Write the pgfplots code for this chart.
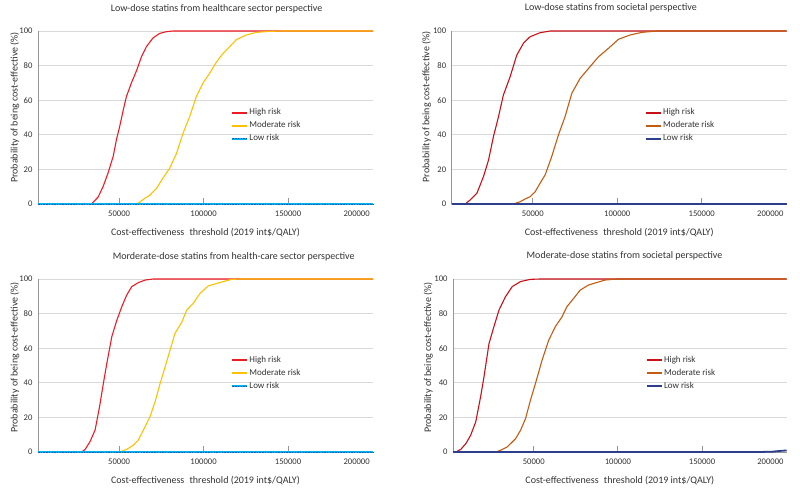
\documentclass[border=0pt]{standalone}
\usepackage{pgfplots}
\pgfplotsset{compat=1.18}
\usepackage{fontspec}
\setmainfont{Carlito}

\definecolor{hcRed}{RGB}{236,28,36}
\definecolor{hcGold}{RGB}{255,192,0}
\definecolor{hcLow}{RGB}{0,176,240}
\definecolor{hcLowDark}{RGB}{0,100,170}
\definecolor{socRed}{RGB}{200,16,22}
\definecolor{socBrown}{RGB}{197,90,17}
\definecolor{socLow}{RGB}{44,62,140}
\definecolor{gridGray}{RGB}{217,217,217}
\definecolor{axisGray}{RGB}{150,150,150}
\definecolor{txtGray}{RGB}{50,50,50}

\pgfplotsset{
  panel/.style={
    scale only axis,
    width=335pt, height=173pt,
    anchor=south west,
    xmin=2000, xmax=200300,
    ymin=0, ymax=100,
    clip=false,
    scaled x ticks=false,
    xtick={50000,100000,150000},
    xticklabels={50000,100000,150000},
    extra x ticks={190600},
    extra x tick labels={200000},
    extra x tick style={major tick length=0pt, grid=none},
    ytick={0,20,...,100},
    ymajorgrids,
    grid style={gridGray, line width=0.8pt},
    axis x line*=bottom, axis y line*=left,
    axis line style={-, axisGray, line width=0.8pt},
    tick align=inside,
    major tick length=6pt,
    xtick style={axisGray, line width=0.9pt},
    ytick style={draw=none},
    /pgf/number format/assume math mode=true,
    tick label style={font=\fontsize{8.6}{10}\selectfont, text=txtGray},
    xticklabel style={yshift=-3.5pt},
    yticklabel style={xshift=-2pt},
    label style={font=\fontsize{10}{12}\selectfont, text=txtGray},
    xlabel={Cost-effectiveness\hspace{0.3em} threshold (2019 int\$/QALY)},
    xlabel style={at={(axis description cs:0.5,0)}, anchor=center, yshift=-29pt},
    ylabel={Probability of being cost-effective (\%)},
    title style={font=\fontsize{10}{12}\selectfont, text=txtGray, anchor=center},
    legend style={draw=none, fill=none, anchor=west, inner sep=0pt,
      font=\fontsize{9}{10}\selectfont, text=txtGray,
      nodes={inner sep=1pt, text height=6.5pt, text depth=2pt},
      row sep=2.5pt},
    legend cell align=left,
    legend image code/.code={
      \draw[##1, line width=2pt] (0pt,0pt) -- (15pt,0pt);
    },
  },
  hiline/.style={line width=1.1pt, line join=round},
  hcLowStyle/.style={hcLow, line width=1.8pt,
    postaction={draw=hcLowDark, line width=0.5pt, dash pattern=on 1.5pt off 1.2pt}},
  socLowStyle/.style={socLow, line width=1.8pt},
}

\pgfplotstableread{
x y
2000 0
200300 0
}\lowzero

\begin{document}
\begin{tikzpicture}
\path[use as bounding box] (0,0) rectangle (800pt,498pt);

% Low-dose, healthcare sector
\begin{axis}[panel, at={(38pt,294pt)},
  title={Low-dose statins from healthcare sector perspective},
  title style={at={(axis description cs:0.533,1)}, yshift=16pt},
  ylabel style={at={(axis description cs:-0.069,0.558)}, anchor=center},
  legend style={at={(axis description cs:0.577,0.4526)}}]
\addplot[hiline, hcRed] coordinates {
(2000,0)(33600,0)(34600,1)(37600,4)(40500,10)(43500,18)(46500,27.5)(48400,37)
(50400,45)(52400,54)(54300,62)(57300,70)(60300,77)(63200,85)(66200,91)(70100,96)
(74000,98.6)(78000,99.6)(82000,100)(200300,100)};
\addplot[hiline, hcGold] coordinates {
(2000,0)(60300,0)(62200,1)(65200,3.3)(68100,5)(72100,9)(76000,15)(79900,20.6)
(83900,29)(87900,41)(91800,50.5)(95700,62)(99700,70)(103600,75.5)(107600,82)
(111500,87)(115500,91)(119400,95)(125300,97.7)(131200,99.2)(139100,99.8)(147000,100)(200300,100)};
\addplot[hcLowStyle] table {\lowzero};
\legend{High risk, Moderate risk, Low risk}
\end{axis}

% Low-dose, societal
\begin{axis}[panel, at={(451.7pt,294pt)},
  title={Low-dose statins from societal perspective},
  title style={at={(axis description cs:0.475,1)}, yshift=17pt},
  ylabel style={at={(axis description cs:-0.075,0.562)}, anchor=center},
  legend style={at={(axis description cs:0.577,0.4526)}}]
\addplot[hiline, socRed] coordinates {
(2000,0)(10000,0)(12900,2.3)(16900,6.2)(20800,15.8)(23800,25.4)(26700,38.9)
(29700,50.5)(32600,63)(36600,73.6)(40500,86)(44500,93)(48400,96.7)(54300,99)
(60300,100)(200300,100)};
\addplot[hiline, socBrown] coordinates {
(2000,0)(38600,0)(42500,1.3)(45500,2.9)(48400,4.2)(51400,7.1)(54300,12)(57300,16.8)
(61200,27.4)(65200,40)(69100,50.5)(73100,64)(78000,72.6)(83900,79.4)(88800,85)
(94800,90)(100700,95.2)(107600,97.7)(114500,99.2)(123400,100)(200300,100)};
\addplot[socLowStyle] table {\lowzero};
\legend{High risk, Moderate risk, Low risk}
\end{axis}

% Moderate-dose, healthcare sector
\begin{axis}[panel, at={(38pt,46pt)},
  title={Morderate-dose statins from health-care sector perspective},
  title style={at={(axis description cs:0.584,1)}, yshift=16.3pt},
  ylabel style={at={(axis description cs:-0.069,0.546)}, anchor=center},
  legend style={at={(axis description cs:0.577,0.455)}}]
\addplot[hiline, hcRed] coordinates {
(2000,0)(27900,0)(29900,1.5)(32800,6)(35800,12.7)(38400,26)(40700,39.7)(42700,51)
(45700,66.7)(48600,76)(51600,84)(54500,90.7)(57500,95.6)(61400,97.9)(65400,99.4)
(70300,100)(200300,100)};
\addplot[hiline, hcGold] coordinates {
(2000,0)(50600,0)(54500,1.5)(58500,4)(61400,7)(64400,12.7)(68300,20.4)(71300,29)
(74300,39.7)(77200,49)(80200,59)(83100,68.6)(87100,75)(90000,82)(94000,86)
(97900,91.7)(102800,96)(109800,98)(116600,99.8)(122600,100)(200300,100)};
\addplot[hcLowStyle] table {\lowzero};
\legend{High risk, Moderate risk, Low risk}
\end{axis}

% Moderate-dose, societal
\begin{axis}[panel, at={(453pt,46pt)}, width=333.7pt,
  title={Moderate-dose statins from societal perspective},
  title style={at={(axis description cs:0.514,1)}, yshift=16.7pt},
  ylabel style={at={(axis description cs:-0.074,0.546)}, anchor=center},
  legend style={at={(axis description cs:0.578,0.455)}}]
\addplot[hiline, socRed] coordinates {
(2000,0)(3700,0)(6600,1.5)(9600,4.8)(12500,9.7)(15500,17.4)(18400,31.9)(20400,43.4)
(23400,62.7)(26300,72.4)(29300,82)(33200,89.8)(37200,95.6)(42100,98.5)(48000,99.8)
(53900,100)(200300,100)};
\addplot[hiline, socBrown] coordinates {
(2000,0)(27300,0)(30300,1)(34200,2.9)(39200,7.7)(42100,12.5)(45100,19.3)(48000,29.9)
(51000,39.6)(54900,53)(58900,64.7)(62800,72.4)(66800,78.2)(69700,84)(73700,88.8)
(77600,93.6)(82500,96.5)(87500,98)(92400,99.4)(99300,100)(200300,100)};
\addplot[socLowStyle] coordinates {
(2000,0)(184000,0)(192000,0.2)(196000,0.6)(200300,0.9)};
\legend{High risk, Moderate risk, Low risk}
\end{axis}
\end{tikzpicture}
\end{document}
